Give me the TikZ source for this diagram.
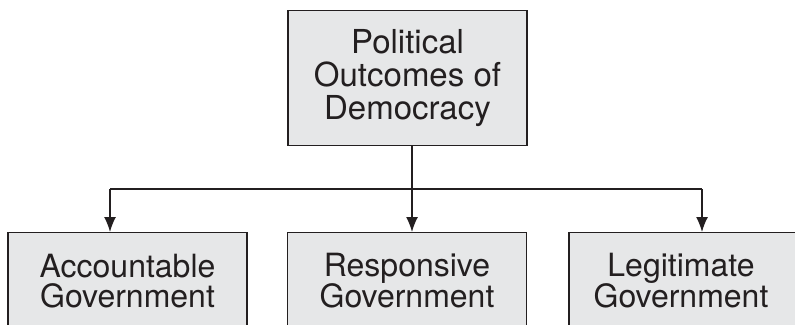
\documentclass[tikz,border=0pt]{standalone}
\usepackage{fontspec}
\setmainfont{TeX Gyre Heros}
\usetikzlibrary{arrows.meta}
\definecolor{boxfill}{HTML}{E6E7E8}
\definecolor{ink}{HTML}{231F20}
\begin{document}
\begin{tikzpicture}[x=1pt,y=-1pt,
  box/.style={draw=ink,fill=boxfill,line width=1.3pt,text=ink,
    minimum width=239pt,inner sep=0pt,align=center,anchor=north},
  topbox/.style={box,minimum height=135pt,font=\fontsize{33}{33}\selectfont},
  botbox/.style={box,minimum height=96pt,font=\fontsize{32}{30}\selectfont},
  conn/.style={draw=ink,line width=1.4pt},
  arr/.style={conn,-{Latex[length=15pt,width=12pt]}}]
\useasboundingbox (0,0) rectangle (795,324);
\clip (0,0) rectangle (795,324);
\node[topbox] (top) at (407.5,10) {Political\\Outcomes of\\Democracy};
\node[botbox] (left) at (127.5,232) {Accountable\\Government};
\node[botbox] (mid) at (407,232) {Responsive\\Government};
\node[botbox] (right) at (688.5,232) {Legitimate\hspace*{15pt}\\Government\hspace*{15pt}};
\coordinate (jL) at (110,189);
\coordinate (jM) at (412,189);
\coordinate (jR) at (702,189);
\draw[conn] (top.south -| jM) -- (jM);
\draw[conn] (jL) -- (jR);
\draw[arr] (jL) -- (jL |- left.north);
\draw[arr] (jM) -- (jM |- mid.north);
\draw[arr] (jR) -- (jR |- right.north);
\end{tikzpicture}
\end{document}
